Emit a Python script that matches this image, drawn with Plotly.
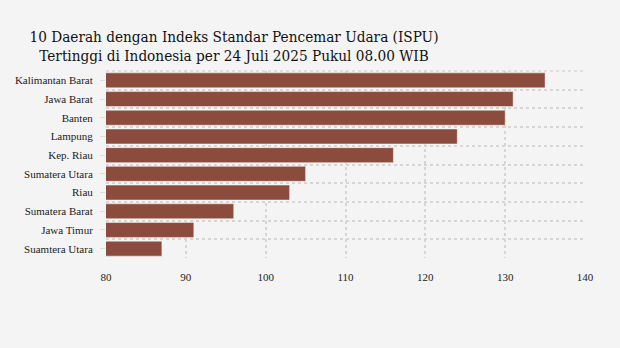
import plotly.graph_objects as go

categories = ["Kalimantan Barat", "Jawa Barat", "Banten", "Lampung", "Kep. Riau",
              "Sumatera Utara", "Riau", "Sumatera Barat", "Jawa Timur", "Suamtera Utara"]
values = [135, 131, 130, 124, 116, 105, 103, 96, 91, 87]
x_ticks = [80, 90, 100, 110, 120, 130, 140]
title_text = "10 Daerah dengan Indeks Standar Pencemar Udara (ISPU)<br>Tertinggi di Indonesia per 24 Juli 2025 Pukul 08.00 WIB"

positions = list(range(len(categories)))
grid_color = "#d6d6d6"

fig = go.Figure(go.Bar(
    x=values,
    y=positions,
    orientation="h",
    marker=dict(color="#8b4c3e", line=dict(color="rgba(255,255,255,0.45)", width=1)),
    hoverinfo="x+text",
    text=categories,
    textposition="none",
))

fig.update_layout(
    width=620, height=348,
    paper_bgcolor="#f4f4f4", plot_bgcolor="#f4f4f4",
    margin=dict(l=106, r=35, t=71, b=90),
    bargap=0.2,
    showlegend=False,
    title=dict(
        text=title_text,
        x=234 / 620, xanchor="center", xref="container",
        y=1 - 41.5 / 348, yanchor="middle", yref="container",
        font=dict(family="DejaVu Serif Condensed, DejaVu Serif, serif", size=15.2, color="#111"),
    ),
    font=dict(family="Liberation Serif, serif", size=11, color="#222"),
    shapes=[dict(type="line", xref="x domain", yref="y domain", x0=0, x1=1, y0=1, y1=1,
                 line=dict(color=grid_color, width=1.5, dash="dot"), layer="below")],
)

fig.update_xaxes(
    range=[80, 140], tickvals=x_ticks, ticktext=[str(t) for t in x_ticks],
    showgrid=True, gridcolor=grid_color, griddash="dot", gridwidth=1.5,
    zeroline=False, showline=False, ticks="", ticklabelstandoff=11,
)
fig.update_yaxes(
    range=[len(categories) - 0.5, -0.5],
    tickvals=positions, ticktext=categories,
    showgrid=False, zeroline=False, showline=False,
    ticks="outside", ticklen=5, tickcolor="#dcdcdc", tickwidth=1,
    ticklabelstandoff=5,
    minor=dict(tick0=-0.5, dtick=1, showgrid=True, gridcolor=grid_color,
               griddash="dot", gridwidth=1.5, ticks=""),
)

fig.write_html("out.html")
